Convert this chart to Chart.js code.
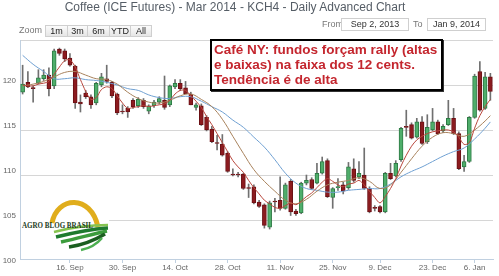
<!DOCTYPE html>
<html>
<head>
<meta charset="utf-8">
<script src="https://cdn.jsdelivr.net/npm/chart.js@4.4.0/dist/chart.umd.min.js"></script>
<style>
  html, body { margin: 0; padding: 0; background: #fff; }
  #wrap { position: relative; width: 499px; height: 276px; overflow: hidden; font-family: "Liberation Sans", Arial, sans-serif; }
  #priceChart { position: absolute; left: 0; top: 0; }
  .title { position: absolute; left: 0; top: 0; width: 470px; text-align: center; font-size: 12px; line-height: 14px; color: #555d66; }
  .lbl { position: absolute; font-size: 9px; color: #777; }
  .btn { position: absolute; top: 25px; height: 10px; line-height: 10px; border: 1px solid #cfcfcf; background: linear-gradient(#fbfbfb, #e6e6e6); font-size: 9px; color: #222; text-align: center; }
  .inp { position: absolute; top: 18px; height: 11px; line-height: 11px; border: 1px solid #cfcfcf; font-size: 9px; color: #333; text-align: center; background: #fff; }
  .note { position: absolute; left: 210px; top: 39px; width: 227px; height: 47px; border: 2px solid #000; box-shadow: 1px 1px 0 #333; background: #fff; padding: 1px 0 0 2px; font-weight: bold; font-size: 13.5px; line-height: 15px; color: #c4262e; white-space: nowrap; }
  #logo { position: absolute; left: 21px; top: 190px; }
</style>
</head>
<body>
<div id="wrap">
  <canvas id="priceChart" width="499" height="276"></canvas>
  <div class="title">Coffee (ICE Futures) - Mar 2014 - KCH4 - Daily Advanced Chart</div>
  <div class="lbl" style="left:19px; top:25px;">Zoom</div>
  <div class="btn" style="left:45px; width:21px;">1m</div>
  <div class="btn" style="left:67px; width:19px;">3m</div>
  <div class="btn" style="left:87px; width:21px;">6m</div>
  <div class="btn" style="left:109px; width:20px;">YTD</div>
  <div class="btn" style="left:130px; width:20px;">All</div>
  <div class="lbl" style="left:322px; top:19px;">From</div>
  <div class="inp" style="left:341px; width:66px;">Sep 2, 2013</div>
  <div class="lbl" style="left:413px; top:19px;">To</div>
  <div class="inp" style="left:427px; width:57px;">Jan 9, 2014</div>
  <div class="note">Café NY: fundos forçam rally (altas<br>e baixas) na faixa dos 12 cents.<br>Tendência é de alta</div>
  <svg id="logo" width="88" height="62" viewBox="0 0 88 62">
    <rect x="0" y="0" width="88" height="62" fill="#fff"/>
    <path d="M31,33 C36,6 70,4 77,37" fill="none" stroke="#e0ad1c" stroke-width="5"/>
    <path d="M33,42 C52,37 70,35 87,35" fill="none" stroke="#86c450" stroke-width="2.5"/>
    <path d="M35,47 C55,42 72,39 87,38" fill="none" stroke="#1e7a2e" stroke-width="3.5"/>
    <path d="M40,52 C58,48 72,44 86,41" fill="none" stroke="#3c9c3c" stroke-width="3.5"/>
    <path d="M48,57 C62,55 74,50 84,44" fill="none" stroke="#1b5e20" stroke-width="3.5"/>
    <path d="M60,60 C70,58 76,54 81,48" fill="none" stroke="#4caf50" stroke-width="2.5"/>
    <text x="1" y="38" font-family="Liberation Serif, serif" font-weight="bold" font-size="8.5" fill="#1e3d1e" textLength="71" lengthAdjust="spacingAndGlyphs">AGRO BLOG BRASIL</text>
  </svg>
</div>
<script>
const dates = [
  'Sep 3','Sep 4','Sep 5','Sep 6','Sep 9','Sep 10','Sep 11','Sep 12','Sep 13','Sep 16',
  'Sep 17','Sep 18','Sep 19','Sep 20','Sep 23','Sep 24','Sep 25','Sep 26','Sep 27','Sep 30',
  'Oct 1','Oct 2','Oct 3','Oct 4','Oct 7','Oct 8','Oct 9','Oct 10','Oct 11','Oct 14',
  'Oct 15','Oct 16','Oct 17','Oct 18','Oct 21','Oct 22','Oct 23','Oct 24','Oct 25','Oct 28',
  'Oct 29','Oct 30','Oct 31','Nov 1','Nov 4','Nov 5','Nov 6','Nov 7','Nov 8','Nov 11',
  'Nov 12','Nov 13','Nov 14','Nov 15','Nov 18','Nov 19','Nov 20','Nov 21','Nov 22','Nov 25',
  'Nov 26','Nov 27','Nov 29','Dec 2','Dec 3','Dec 4','Dec 5','Dec 6','Dec 9','Dec 10',
  'Dec 11','Dec 12','Dec 13','Dec 16','Dec 17','Dec 18','Dec 19','Dec 20','Dec 23','Dec 24',
  'Dec 26','Dec 27','Dec 30','Dec 31','Jan 2','Jan 3','Jan 6','Jan 7','Jan 8','Jan 9'
];

const opens = [
  119.2,120.3,119.7,120.2,120.7,121.1,119.9,124.0,123.8,123.0,
  122.1,118.1,119.1,118.7,118.0,120.0,120.7,120.3,119.0,117.1,
  117.4,118.3,117.7,118.3,117.1,117.7,118.1,118.3,117.8,119.8,
  120.2,119.7,119.0,117.5,117.7,116.4,115.1,113.6,113.4,112.4,
  110.1,110.1,110.1,108.6,108.7,107.0,106.7,104.2,107.1,107.2,
  106.3,109.3,106.0,105.8,109.1,109.5,109.1,110.2,111.6,107.5,
  108.6,108.9,108.6,110.7,109.8,110.0,108.5,106.4,106.5,105.9,
  110.2,109.9,111.7,115.4,115.6,114.2,115.9,113.7,115.0,115.9,
  114.9,115.6,116.3,114.6,110.9,111.5,116.4,121.5,117.4,120.9
];
const highs = [
  122.2,121.5,119.9,121.7,121.7,121.9,124.0,124.1,124.0,123.5,
  122.2,118.9,119.4,118.9,120.3,121.3,122.2,120.4,119.1,117.8,
  117.6,118.5,118.6,118.5,117.8,118.3,118.7,121.0,120.0,120.6,
  120.6,120.4,119.2,118.0,117.9,116.6,115.4,114.4,114.5,112.6,
  110.7,110.3,110.2,109.0,108.9,107.2,106.8,107.1,107.4,109.8,
  109.1,109.5,106.2,109.2,110.0,109.7,111.3,112.0,111.8,108.6,
  109.6,109.2,111.4,111.8,111.5,113.0,108.7,106.6,106.6,110.3,
  111.3,111.6,115.3,117.2,115.8,116.3,116.5,116.7,117.4,116.1,
  115.6,118.3,117.4,114.8,112.2,116.5,121.2,122.6,121.4,121.3
];
const lows = [
  119.0,119.7,118.1,120.1,120.5,118.8,119.6,123.3,122.6,122.1,
  117.4,117.0,118.5,117.4,117.8,119.8,120.2,118.6,116.7,116.8,
  116.4,117.4,117.5,117.4,116.8,117.5,117.9,117.3,117.6,119.6,
  119.4,119.0,117.8,117.2,115.5,114.9,113.6,112.8,112.1,110.3,
  109.9,109.8,108.4,107.5,106.8,106.4,104.1,104.0,105.9,106.1,
  106.2,105.5,105.5,105.7,108.9,108.4,109.0,110.1,107.5,106.3,
  108.3,107.9,108.4,109.2,109.6,108.4,105.8,106.0,105.8,105.8,
  109.5,109.8,111.5,114.3,114.0,114.1,113.4,113.5,114.9,114.5,
  114.7,115.5,114.5,110.6,110.4,111.4,116.3,117.1,117.3,118.3
];
const closes = [
  120.1,119.8,119.6,120.8,121.1,119.6,123.8,123.5,122.9,122.2,
  118.0,117.9,118.7,117.8,120.2,120.9,120.4,118.8,116.9,117.0,
  117.0,117.6,118.4,117.6,117.7,118.1,118.5,117.5,119.9,120.2,
  119.6,119.0,117.8,117.8,115.6,115.0,113.7,113.5,112.2,110.4,
  110.0,110.0,108.5,108.5,106.9,106.5,104.4,106.9,107.0,106.3,
  108.9,105.9,105.7,109.1,109.4,108.5,110.2,111.5,107.6,108.5,
  108.7,108.2,110.9,109.4,110.2,108.5,105.9,106.3,105.9,110.2,
  109.6,111.3,115.2,115.3,114.1,115.9,113.5,115.3,115.9,114.6,
  115.4,116.3,114.6,110.7,111.5,116.4,121.0,117.2,120.9,119.3
];

// moving averages (sparse ones joined with spanGaps)
const maShort = [
  120.0,119.9,119.9,120.1,120.2,120.4,121.2,122.0,122.7,122.8,
  122.0,120.6,119.3,118.4,118.6,119.5,119.8,119.6,118.8,118.0,
  117.4,117.5,117.6,117.7,117.6,117.7,117.8,117.9,118.3,119.0,
  119.4,119.4,118.8,118.2,117.5,116.5,115.6,114.6,113.6,112.6,
  111.6,110.9,110.3,109.4,108.6,107.9,107.2,106.8,106.4,106.3,
  106.6,106.9,106.7,107.1,107.6,108.0,108.6,109.2,109.6,109.3,
  108.9,108.7,109.0,109.1,109.4,108.9,108.2,107.5,106.9,107.6,
  108.5,109.6,111.0,112.2,113.2,113.9,114.3,114.6,114.8,114.9,
  115.0,115.0,114.8,114.2,113.4,113.6,115.2,116.6,117.6,118.4
];
const maMid = [
  119.9,null,120.1,null,120.4,null,120.9,null,121.4,null,
  121.5,null,121.1,null,120.7,null,120.6,null,120.1,null,
  119.2,null,118.5,null,118.1,null,118.0,null,118.3,null,
  118.8,null,119.0,null,118.4,null,117.6,null,116.2,null,
  114.3,null,112.4,null,110.6,null,109.3,null,108.2,null,
  107.2,null,106.8,null,107.3,null,108.2,null,108.9,null,
  109.2,null,109.4,null,109.7,null,109.3,null,108.5,null,
  108.9,null,110.3,null,111.8,null,113.2,null,114.2,null,
  114.7,null,114.6,null,114.3,null,115.0,null,116.0,116.6
];
const maLong = [
  123.3,null,122.3,null,121.5,null,120.7,null,120.7,null,
  120.8,null,120.6,null,120.5,null,120.3,null,120.0,null,
  119.6,null,119.4,null,118.9,null,118.6,null,118.5,null,
  118.7,null,118.7,null,118.2,null,117.6,null,117.0,null,
  116.1,null,115.3,null,114.2,null,113.1,null,111.7,null,
  110.2,null,109.1,null,108.5,null,108.3,null,108.1,null,
  108.1,null,108.3,null,108.4,null,108.5,null,108.5,null,
  109.0,null,109.8,null,110.4,null,110.9,null,111.5,null,
  112.1,null,112.6,null,113.0,null,114.0,null,115.2,115.9
];

const tickDates = ['Sep 16','Sep 30','Oct 14','Oct 28','Nov 11','Nov 25','Dec 9','Dec 23','Jan 6'];
const tickLabels = ['16. Sep','30. Sep','14. Oct','28. Oct','11. Nov','25. Nov','9. Dec','23. Dec','6. Jan'];
const yTicks = [100, 105, 110, 115, 120, 125];

const tickIdx = tickDates.map(d => dates.indexOf(d));
const bodies = dates.map((d, i) => [opens[i], closes[i]]);
const wicks = dates.map((d, i) => [lows[i], highs[i]]);
const up = dates.map((d, i) => closes[i] >= opens[i]);

const ctx = document.getElementById('priceChart').getContext('2d');

const priceChart = new Chart(ctx, {
  type: 'bar',
  data: {
    labels: dates,
    datasets: [
      { type: 'line', data: maShort, borderColor: '#b8463c', borderWidth: 1, pointRadius: 0, tension: 0.3, spanGaps: true, order: 0 },
      { type: 'line', data: maMid, borderColor: '#a8825c', borderWidth: 1, pointRadius: 0, tension: 0.4, spanGaps: true, order: 0 },
      { type: 'line', data: maLong, borderColor: '#6fa0d2', borderWidth: 1, pointRadius: 0, tension: 0.4, spanGaps: true, order: 0 },
      {
        data: bodies,
        backgroundColor: up.map(u => u ? '#4fae6b' : '#8c1b1f'),
        borderColor: up.map(u => u ? '#2d7a44' : '#6a1015'),
        borderWidth: 1,
        borderSkipped: false,
        barThickness: 4,
        minBarLength: 1,
        grouped: false,
        order: 1
      },
      { data: wicks, backgroundColor: '#707070', barThickness: 1, grouped: false, order: 2 }
    ]
  },
  options: {
    responsive: false,
    animation: false,
    layout: { padding: { top: 40, right: 6, left: 0, bottom: 0 } },
    plugins: {
      legend: { display: false },
      tooltip: { enabled: false }
    },
    scales: {
      x: {
        offset: true,
        grid: { display: true, offset: false, drawOnChartArea: false, tickLength: 4, color: '#c0d0e0' },
        border: { color: '#c0d0e0' },
        ticks: {
          autoSkip: false,
          maxRotation: 0,
          padding: 0,
          color: '#666',
          font: { size: 8, family: 'Liberation Sans' },
          callback: v => tickLabels[tickIdx.indexOf(v)] || ''
        },
        afterBuildTicks: s => { s.ticks = tickIdx.map(v => ({ value: v })); },
        afterFit: s => { s.height = 17; }
      },
      y: {
        min: 100.67,
        max: 125,
        grid: {
          drawTicks: false,
          color: c => c.tick && c.tick.value === 100 ? 'rgba(0,0,0,0)' : '#d6d6d6'
        },
        border: { display: true, color: '#c0d0e0' },
        ticks: {
          padding: 4,
          labelOffset: -4,
          color: '#666',
          font: { size: 8, family: 'Liberation Sans' },
          callback: v => v === 125 ? '' : v
        },
        afterBuildTicks: s => { s.ticks = yTicks.map(v => ({ value: v })); },
        afterFit: s => { s.width = 20; }
      }
    }
  }
});
</script>
</body>
</html>
